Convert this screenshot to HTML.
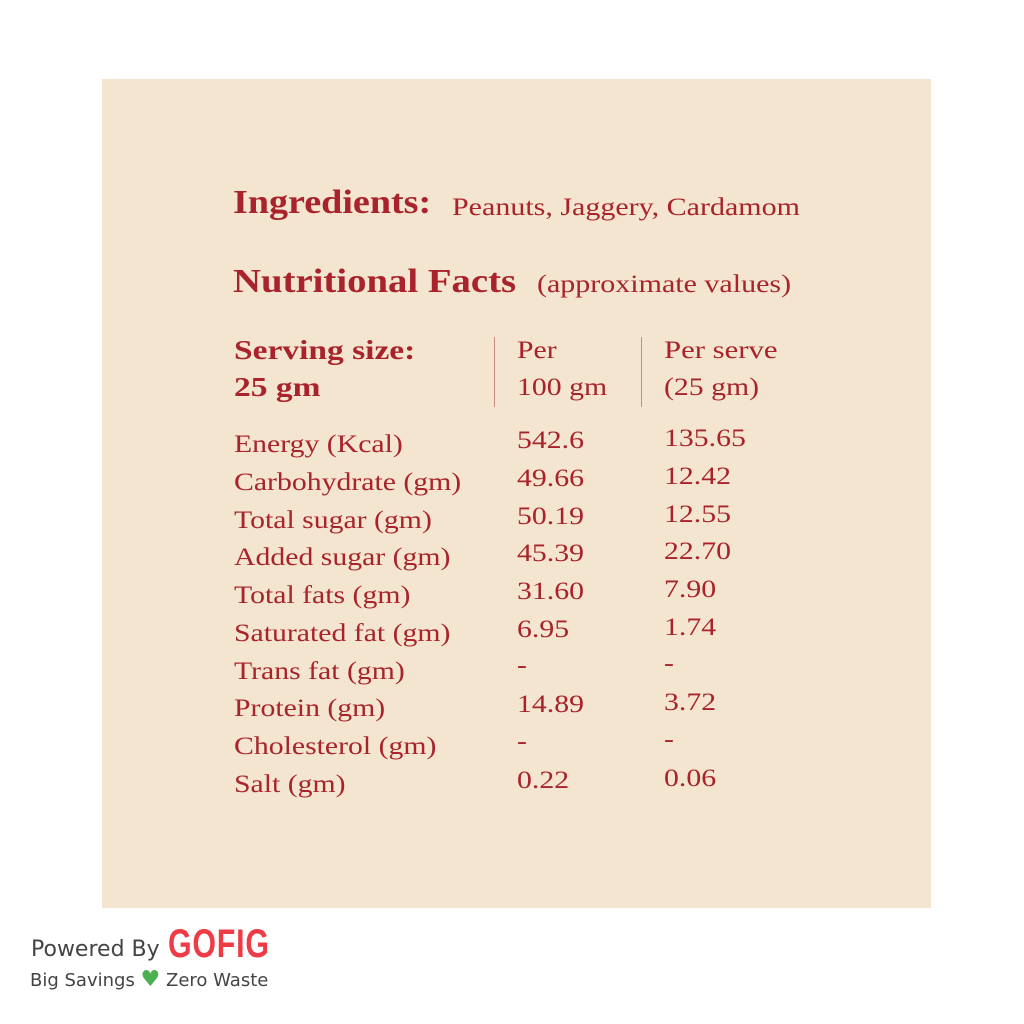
<!DOCTYPE html>
<html><head><meta charset="utf-8"><style>
html,body{margin:0;padding:0;background:#fff;width:1024px;height:1024px;overflow:hidden;position:relative}
.p{position:absolute;left:102px;top:79px;width:829px;height:829px;background:#f3e5cf}
.t{position:absolute;white-space:nowrap;font-family:"Liberation Serif",serif;color:#a8232b;line-height:1;font-size:25px;transform-origin:left center;transform:scaleX(1.19)}
.b{font-weight:bold}
.v{position:absolute;width:1px;background:#c98a82}
.s{position:absolute;white-space:nowrap;font-family:"DejaVu Sans","Liberation Sans",sans-serif;color:#444;line-height:1}
</style></head><body>
<div class="p"></div>
<div class="t b" style="left:233px;top:186px;font-size:34px;transform:scaleX(1.12)">Ingredients:</div>
<div class="t" style="left:452px;top:195px;transform:scaleX(1.2)">Peanuts, Jaggery, Cardamom</div>
<div class="t b" style="left:233px;top:265px;font-size:34px;transform:scaleX(1.14)">Nutritional Facts</div>
<div class="t" style="left:537px;top:272px;transform:scaleX(1.2)">(approximate values)</div>
<div class="t b" style="left:234px;top:337px;font-size:27px;transform:scaleX(1.24)">Serving size:</div>
<div class="t b" style="left:234px;top:374px;font-size:27px;transform:scaleX(1.24)">25 gm</div>
<div class="t" style="left:517px;top:338px">Per</div>
<div class="t" style="left:517px;top:375px">100 gm</div>
<div class="t" style="left:664px;top:338px;transform:scaleX(1.23)">Per serve</div>
<div class="t" style="left:664px;top:375px">(25 gm)</div>
<div class="v" style="left:494px;top:337px;height:70px"></div>
<div class="v" style="left:641px;top:337px;height:70px"></div>

<div class="t" style="left:234px;top:432px">Energy (Kcal)</div>
<div class="t" style="left:517px;top:428px">542.6</div>
<div class="t" style="left:664px;top:426px">135.65</div>

<div class="t" style="left:234px;top:470px">Carbohydrate (gm)</div>
<div class="t" style="left:517px;top:466px">49.66</div>
<div class="t" style="left:664px;top:464px">12.42</div>

<div class="t" style="left:234px;top:508px">Total sugar (gm)</div>
<div class="t" style="left:517px;top:504px">50.19</div>
<div class="t" style="left:664px;top:502px">12.55</div>

<div class="t" style="left:234px;top:545px">Added sugar (gm)</div>
<div class="t" style="left:517px;top:541px">45.39</div>
<div class="t" style="left:664px;top:539px">22.70</div>

<div class="t" style="left:234px;top:583px">Total fats (gm)</div>
<div class="t" style="left:517px;top:579px">31.60</div>
<div class="t" style="left:664px;top:577px">7.90</div>

<div class="t" style="left:234px;top:621px">Saturated fat (gm)</div>
<div class="t" style="left:517px;top:617px">6.95</div>
<div class="t" style="left:664px;top:615px">1.74</div>

<div class="t" style="left:234px;top:659px">Trans fat (gm)</div>
<div class="t" style="left:517px;top:653px">-</div>
<div class="t" style="left:664px;top:651px">-</div>

<div class="t" style="left:234px;top:696px">Protein (gm)</div>
<div class="t" style="left:517px;top:692px">14.89</div>
<div class="t" style="left:664px;top:690px">3.72</div>

<div class="t" style="left:234px;top:734px">Cholesterol (gm)</div>
<div class="t" style="left:517px;top:729px">-</div>
<div class="t" style="left:664px;top:727px">-</div>

<div class="t" style="left:234px;top:772px">Salt (gm)</div>
<div class="t" style="left:517px;top:768px">0.22</div>
<div class="t" style="left:664px;top:766px">0.06</div>

<div class="s" style="left:31px;top:939px;font-size:22px">Powered By</div>
<div class="s" style="left:168px;top:924px;font-size:40px;font-weight:bold;color:#ee3b45;font-family:'Liberation Sans Narrow','Liberation Sans',sans-serif;transform:scaleX(0.76);transform-origin:left;letter-spacing:1px">GOFIG</div>
<div class="s" style="left:30px;top:969px;font-size:18px">Big Savings <span style="color:#4caf50;font-size:22px">&#9829;</span> Zero Waste</div>
</body></html>
